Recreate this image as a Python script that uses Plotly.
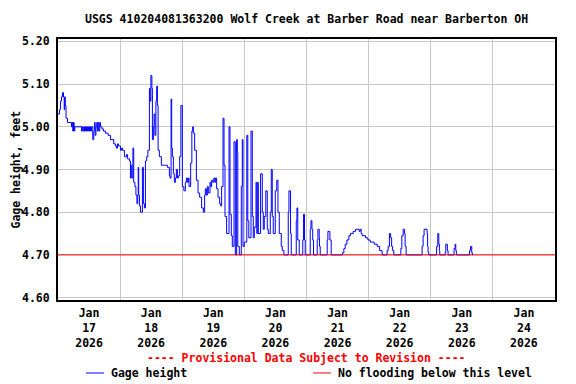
import pandas as pd
import plotly.graph_objects as go

title_text = "USGS 410204081363200 Wolf Creek at Barber Road near Barberton OH"
start = "2026-01-17 00:00"

# hours since start, gage height (ft)
hours = [0.0, 0.58, 0.96, 1.35, 1.74, 2.12, 2.39, 2.59, 2.82, 3.09, 3.67, 5.21, 5.48, 5.71, 5.98,
         6.25, 6.48, 9.07, 9.34, 9.65, 9.96, 10.23, 10.61, 11.0, 11.38, 11.77, 12.16, 12.54, 12.93,
         13.43, 13.82, 14.09, 14.36, 14.66, 14.97, 15.24, 15.51, 15.82, 16.13, 16.4, 16.98, 17.56,
         18.33, 19.37, 20.26, 21.53, 22.19, 22.58, 22.96, 23.35, 23.73, 24.12, 24.5, 24.89, 25.66,
         26.43, 26.82, 27.59, 27.98, 28.25, 28.56, 28.94, 29.25, 29.71, 30.1, 30.49, 30.79, 30.99,
         31.18, 31.45, 31.84, 32.61, 32.99, 33.38, 33.77, 34.27, 34.73, 35.31, 35.58, 35.89, 36.27,
         36.47, 36.85, 37.12, 37.43, 37.82, 38.13, 38.4, 38.67, 39.17, 39.94, 41.1, 42.26, 43.03,
         43.3, 43.68, 43.92, 44.19, 44.57, 44.96, 45.34, 45.73, 46.12, 46.5, 47.0, 47.47, 48.04,
         48.62, 49.2, 49.59, 49.97, 50.36, 50.63, 51.25, 51.71, 52.02, 52.29, 52.79, 53.45, 54.1,
         54.72, 55.49, 56.15, 56.65, 56.92, 57.31, 57.69, 58.08, 58.73, 59.04, 59.35, 59.81, 60.2,
         60.59, 60.9, 61.28, 61.82, 62.44, 62.82, 63.21, 63.75, 64.14, 64.52, 65.14, 66.07, 66.45,
         66.95, 67.34, 68.0, 68.5, 69.0, 69.27, 69.46, 70.04, 70.81, 71.2, 71.47, 71.97, 72.94,
         73.32, 73.71, 74.56, 75.06, 75.44, 75.83, 76.49, 76.79, 77.18, 77.37, 78.26, 78.92, 79.3,
         79.69, 80.27, 80.85, 81.23, 82.0, 82.39, 82.77, 83.16, 83.93, 84.51, 84.98, 85.48, 86.25,
         86.64, 87.29, 88.95, 89.22, 89.84, 90.11, 92.04, 92.31, 92.62, 93.2, 94.55, 94.86, 95.24,
         95.51, 97.44, 97.71, 98.1, 98.4, 98.71, 100.14, 100.41, 100.91, 101.03, 101.3, 104.0,
         104.27, 105.04, 105.54, 109.9, 110.44, 110.95, 111.6, 112.37, 113.0, 114.03, 114.92,
         115.96, 116.35, 116.73, 117.12, 117.5, 118.78, 119.7, 120.59, 122.14, 123.3, 124.26,
         125.22, 127.15, 127.54, 128.04, 128.5, 128.89, 129.28, 129.74, 132.44, 132.83, 133.33,
         133.83, 134.1, 134.49, 140.28, 140.66, 141.05, 141.43, 142.59, 142.78, 142.97, 143.25,
         146.26, 146.72, 147.11, 147.34, 147.49, 149.54, 149.81, 150.42, 150.69, 153.01, 153.4,
         153.67, 153.9, 158.99, 159.38, 159.84, 160.08, 160.34]

gage = [5.03, 5.04, 5.06, 5.07, 5.08, 5.07, 5.04, 5.07, 5.05, 5.02, 5.01, 5.00, 5.01, 4.99, 5.01,
        4.99, 5.00, 4.99, 5.00, 4.99, 5.00, 4.99, 5.00, 4.99, 5.00, 4.99, 5.00, 4.99, 5.00,
        4.97, 4.99, 5.01, 4.98, 5.00, 5.01, 4.99, 5.01, 4.99, 5.01, 5.00, 4.995, 4.99,
        4.985, 4.98, 4.97, 4.96, 4.955, 4.95, 4.96, 4.955, 4.955, 4.945, 4.95, 4.945, 4.93,
        4.935, 4.925, 4.92, 4.88, 4.91, 4.88, 4.95, 4.87, 4.86, 4.84, 4.82, 4.84, 4.905,
        4.84, 4.815, 4.80, 4.905, 4.82, 4.81, 4.92, 4.93, 4.945, 5.09, 5.06, 5.12, 5.09,
        4.97, 5.00, 5.03, 4.98, 5.06, 5.095, 5.05, 4.945, 4.93, 4.91, 4.91, 4.905, 4.885,
        4.88, 5.065, 4.95, 4.93, 4.89, 4.87, 4.88, 4.90, 4.88, 4.885, 4.93, 5.05, 4.86,
        4.85, 4.87, 4.88, 4.87, 4.88, 4.86, 4.915, 4.99, 5.00, 4.985, 4.945, 4.875, 4.845,
        4.835, 4.81, 4.80, 4.84, 4.855, 4.84, 4.86, 4.845, 4.87, 4.86, 4.875, 4.87, 4.88,
        4.87, 4.88, 4.855, 4.835, 4.82, 4.815, 4.86, 5.02, 4.91, 4.79, 4.75, 5.00, 4.795,
        4.745, 4.72, 4.965, 4.70, 4.97, 4.94, 4.72, 4.70, 4.86, 4.97, 4.72, 4.73, 4.98,
        4.78, 4.74, 4.99, 4.79, 4.74, 4.765, 4.87, 4.75, 4.87, 4.75, 4.89, 4.80, 4.76,
        4.79, 4.85, 4.76, 4.75, 4.80, 4.90, 4.79, 4.75, 4.85, 4.875, 4.80, 4.75, 4.72,
        4.71, 4.70, 4.80, 4.85, 4.75, 4.70, 4.78, 4.81, 4.735, 4.70, 4.735, 4.795, 4.735,
        4.70, 4.76, 4.78, 4.76, 4.735, 4.70, 4.735, 4.76, 4.74, 4.72, 4.70, 4.735,
        4.755, 4.735, 4.70, 4.705, 4.715, 4.725, 4.735, 4.745, 4.75, 4.755, 4.76,
        4.76, 4.755, 4.76, 4.75, 4.745, 4.74, 4.735, 4.73, 4.725, 4.72, 4.71,
        4.70, 4.71, 4.72, 4.75, 4.74, 4.72, 4.71, 4.70, 4.715, 4.745, 4.76,
        4.75, 4.72, 4.70, 4.70, 4.72, 4.745, 4.76, 4.75, 4.72, 4.705, 4.70,
        4.72, 4.75, 4.725, 4.71, 4.70, 4.705, 4.725, 4.71, 4.70, 4.715, 4.725,
        4.71, 4.70, 4.71, 4.72, 4.705, 4.70, 4.70]

flood_level = 4.70
label_days = ["2026-01-17", "2026-01-18", "2026-01-19", "2026-01-20",
              "2026-01-21", "2026-01-22", "2026-01-23", "2026-01-24"]
day_labels = ["Jan<br>17<br>2026", "Jan<br>18<br>2026", "Jan<br>19<br>2026", "Jan<br>20<br>2026",
              "Jan<br>21<br>2026", "Jan<br>22<br>2026", "Jan<br>23<br>2026", "Jan<br>24<br>2026"]
grid_days = ["2026-01-18", "2026-01-19", "2026-01-20", "2026-01-21",
             "2026-01-22", "2026-01-23", "2026-01-24"]
x_range = ["2026-01-17 00:00", "2026-01-25 00:00"]
y_ticks = [4.60, 4.70, 4.80, 4.90, 5.00, 5.10, 5.20]

times = pd.Timestamp(start) + pd.to_timedelta(hours, unit="h")
label_pos = [pd.Timestamp(d) + pd.Timedelta(hours=12) for d in label_days]

FONT = dict(family="DejaVu Sans Mono", size=11.5, color="black", weight="bold")
GRID = "#c8c8c8"

fig = go.Figure()
fig.add_trace(go.Scatter(x=times, y=gage, mode="lines", line=dict(color="#0000ff", width=1, shape="hv"),
                         showlegend=False, hoverinfo="x+y"))
fig.add_hline(y=flood_level, line=dict(color="#ff0000", width=1), layer="above")

fig.update_layout(
    width=576, height=384,
    margin=dict(l=58, r=21, t=39, b=84, autoexpand=False),
    paper_bgcolor="white", plot_bgcolor="white",
    font=FONT,
    xaxis=dict(range=x_range, tickmode="array", tickvals=label_pos, ticktext=day_labels,
               showgrid=False, zeroline=False, ticks="outside", ticklen=1, automargin=False,
               tickcolor="rgba(0,0,0,0)", showline=True, mirror=True, linecolor="black",
               linewidth=2, tickfont=FONT,
               minor=dict(tickmode="array", tickvals=grid_days, showgrid=True,
                          gridcolor=GRID, gridwidth=1, ticks="")),
    yaxis=dict(range=[4.5944, 5.2056], tickmode="array", tickvals=y_ticks,
               ticktext=[f"{v:.2f}" for v in y_ticks], showgrid=True, gridcolor=GRID,
               gridwidth=1, zeroline=False, ticks="outside", ticklen=4, automargin=False,
               tickcolor="rgba(0,0,0,0)", showline=True, mirror=True, linecolor="black",
               linewidth=2, tickfont=FONT),
)

# title, axis title, footer and legend
fig.add_annotation(text=title_text, xref="paper", yref="paper", x=0.5, y=1, yshift=20,
                   xanchor="center", yanchor="middle", showarrow=False, font=FONT)
fig.add_annotation(text="Gage height, feet", xref="paper", yref="paper", x=0, y=0.5, xshift=-43,
                   xanchor="center", yanchor="middle", textangle=-90, showarrow=False, font=FONT)
fig.add_annotation(text="---- Provisional Data Subject to Revision ----", xref="paper", yref="paper",
                   x=0.5, y=0, yshift=-58, xanchor="center", yanchor="middle", showarrow=False,
                   font=dict(family="DejaVu Sans Mono", size=11.5, color="#ff0000", weight="bold"))

legend_items = [("Gage height", "#0000ff", 28), ("No flooding below this level", "#ff0000", 255)]
for name, color, off in legend_items:
    fig.add_shape(type="line", xref="paper", yref="paper", xsizemode="pixel", ysizemode="pixel",
                  xanchor=0, yanchor=0, x0=off, x1=off + 18, y0=-73, y1=-73,
                  line=dict(color=color, width=1))
    fig.add_annotation(text=name, xref="paper", yref="paper", x=0, y=0, xshift=off + 23, yshift=-73,
                       xanchor="left", yanchor="middle", showarrow=False, font=FONT)

fig.write_html("out.html", config={"displayModeBar": False},
               post_script="document.body.style.margin='0';")
